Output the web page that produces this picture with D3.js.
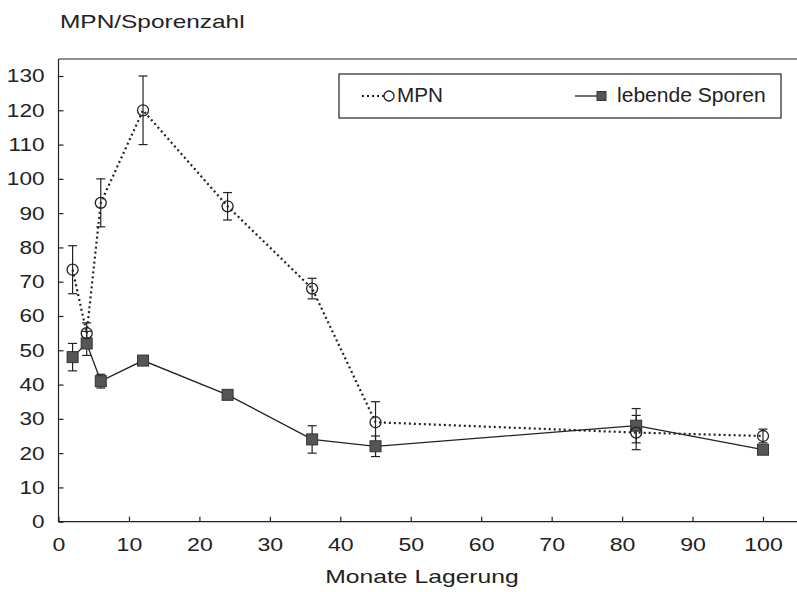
<!DOCTYPE html>
<html>
<head>
<meta charset="utf-8">
<script src="https://cdn.jsdelivr.net/npm/d3@7"></script>
<style>
    body { margin: 0; background: #fff; }
    text { font-family: "Liberation Sans", Arial, sans-serif; fill: #222; }
</style>
</head>
<body>
<div class="chart-svg"></div>
<script>
// months of storage
var months = [2, 4, 6, 12, 24, 36, 45, 82, 100];

// MPN series with error bars
var mpn    = [73.5, 55, 93, 120, 92, 68, 29, 26, 25];
var mpnErr = [7, 3, 7, 10, 4, 3, 6, 5, 2];

// living spores series with error bars
var sporen    = [48, 52, 41, 47, 37, 24, 22, 28, 21];
var sporenErr = [4, 3.5, 2, 1, 1, 4, 3, 5, 0];

var xTicks = d3.range(0, 101, 10);
var yTicks = d3.range(0, 131, 10);

window.onload = function(){
    var svgWidth = 797;
    var svgHeight = 592;
    var ink = "#222";

    var svg = d3.select(".chart-svg")
            .append("svg")
            .attr("width", svgWidth)
            .attr("height", svgHeight);

    // the scanned lettering is wider than the font, stretch it a bit
    function stretch(sel, factor){
        sel.each(function(){
            var w = this.getComputedTextLength();
            this.setAttribute("textLength", w * factor);
            this.setAttribute("lengthAdjust", "spacingAndGlyphs");
        });
    }

    var xScale = d3.scaleLinear()
        .domain([0, 100])
        .range([58.5, 763]);

    var yScale = d3.scaleLinear()
        .domain([0, 130])
        .range([521.7, 76]);

    var mpnData = months.map(function(m, i){ return {x: m, y: mpn[i], e: mpnErr[i]}; });
    var sporenData = months.map(function(m, i){ return {x: m, y: sporen[i], e: sporenErr[i]}; });

    // top frame line
    svg.append("line")
        .attr("x1", xScale(0)).attr("x2", svgWidth)
        .attr("y1", 59).attr("y2", 59)
        .attr("stroke", ink).attr("stroke-width", 1.2);

    var xAxis = d3.axisBottom(xScale).tickValues(xTicks).tickSize(-5).tickSizeOuter(0).tickPadding(16);
    var yAxis = d3.axisLeft(yScale).tickValues(yTicks).tickSize(-5).tickSizeOuter(0).tickPadding(14);

    var gx = svg.append("g")
        .attr("transform", "translate(0," + yScale(0) + ")")
        .call(xAxis);
    gx.select(".domain").attr("d", "M" + xScale(0) + ",0H" + svgWidth);
    gx.selectAll("text").attr("font-size", 18.5).style("fill", ink);
    gx.selectAll("line, path").attr("stroke", ink).attr("stroke-width", 1.2);
    stretch(gx.selectAll("text"), 1.25);

    var gy = svg.append("g")
        .attr("transform", "translate(" + xScale(0) + ",0)")
        .call(yAxis);
    gy.select(".domain").attr("d", "M0," + yScale(0) + "V59");
    gy.selectAll("text").attr("font-size", 18.5).style("fill", ink);
    gy.selectAll("line, path").attr("stroke", ink).attr("stroke-width", 1.2);
    stretch(gy.selectAll("text"), 1.22);

    // titles
    var yTitle = svg.append("text")
        .attr("x", 60).attr("y", 28)
        .attr("font-size", 18.5)
        .text("MPN/Sporenzahl");
    stretch(yTitle, 1.32);

    var xTitle = svg.append("text")
        .attr("x", 422).attr("y", 583)
        .attr("text-anchor", "middle")
        .attr("font-size", 19)
        .text("Monate Lagerung");
    stretch(xTitle, 1.3);

    var line = d3.line()
        .x(function(d){ return xScale(d.x); })
        .y(function(d){ return yScale(d.y); });

    function errorBars(data, cls){
        var g = svg.append("g").attr("class", cls);
        data.forEach(function(d){
            if (!d.e) return;
            var cx = xScale(d.x);
            g.append("line")
                .attr("x1", cx).attr("x2", cx)
                .attr("y1", yScale(d.y - d.e)).attr("y2", yScale(d.y + d.e))
                .attr("stroke", ink).attr("stroke-width", 1.2);
            [d.y - d.e, d.y + d.e].forEach(function(v){
                g.append("line")
                    .attr("x1", cx - 4.5).attr("x2", cx + 4.5)
                    .attr("y1", yScale(v)).attr("y2", yScale(v))
                    .attr("stroke", ink).attr("stroke-width", 1.2);
            });
        });
    }

    errorBars(sporenData, "err-sporen");
    errorBars(mpnData, "err-mpn");

    svg.append("path")
        .datum(sporenData)
        .attr("d", line)
        .attr("fill", "none")
        .attr("stroke", ink)
        .attr("stroke-width", 1.3);

    svg.append("path")
        .datum(mpnData)
        .attr("d", line)
        .attr("fill", "none")
        .attr("stroke", ink)
        .attr("stroke-width", 2.2)
        .attr("stroke-dasharray", "2,3");

    svg.selectAll(".pt-sporen")
        .data(sporenData)
        .enter()
        .append("rect")
        .attr("class", "pt-sporen")
        .attr("x", function(d){ return xScale(d.x) - 5.5; })
        .attr("y", function(d){ return yScale(d.y) - 5.5; })
        .attr("width", 11).attr("height", 11)
        .attr("fill", "#555")
        .attr("stroke", "#333");

    svg.selectAll(".pt-mpn")
        .data(mpnData)
        .enter()
        .append("circle")
        .attr("class", "pt-mpn")
        .attr("cx", function(d){ return xScale(d.x); })
        .attr("cy", function(d){ return yScale(d.y); })
        .attr("r", 5.5)
        .attr("fill", "none")
        .attr("stroke", ink)
        .attr("stroke-width", 1.3);

    // legend
    var legend = svg.append("g");
    legend.append("rect")
        .attr("x", 339).attr("y", 74)
        .attr("width", 442).attr("height", 44)
        .attr("fill", "#fff")
        .attr("stroke", ink).attr("stroke-width", 1.2);

    legend.append("line")
        .attr("x1", 362).attr("x2", 384)
        .attr("y1", 96).attr("y2", 96)
        .attr("stroke", ink).attr("stroke-width", 2)
        .attr("stroke-dasharray", "2,3");
    legend.append("circle")
        .attr("cx", 389).attr("cy", 96).attr("r", 5)
        .attr("fill", "#fff").attr("stroke", ink).attr("stroke-width", 1.3);
    var t1 = legend.append("text")
        .attr("x", 397).attr("y", 102)
        .attr("font-size", 19.5)
        .text("MPN");
    stretch(t1, 1.06);

    legend.append("line")
        .attr("x1", 575).attr("x2", 597)
        .attr("y1", 96).attr("y2", 96)
        .attr("stroke", ink).attr("stroke-width", 1.3);
    legend.append("rect")
        .attr("x", 597).attr("y", 91.5)
        .attr("width", 9).attr("height", 9)
        .attr("fill", "#555").attr("stroke", "#333");
    var t2 = legend.append("text")
        .attr("x", 617).attr("y", 102)
        .attr("font-size", 19.5)
        .text("lebende Sporen");
    stretch(t2, 1.08);
};
</script>
</body>
</html>
